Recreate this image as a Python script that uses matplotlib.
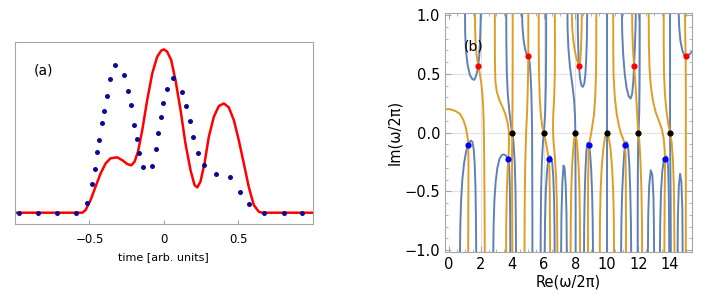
import matplotlib.pyplot as plt

# ---- panel (a): pulse shapes ----
red_t = [-1.0, -0.548, -0.526, -0.492, -0.459, -0.425, -0.391, -0.358, -0.313, -0.280,
         -0.246, -0.219, -0.197, -0.174, -0.145, -0.112, -0.078, -0.045, -0.018, 0.0,
         0.022, 0.049, 0.078, 0.112, 0.145, 0.179, 0.206, 0.224, 0.246, 0.273,
         0.302, 0.336, 0.369, 0.403, 0.436, 0.470, 0.503, 0.537, 0.570, 0.604,
         0.638, 0.660, 1.0]
red_e = [0.0, 0.0, 0.016, 0.078, 0.159, 0.241, 0.302, 0.333, 0.339, 0.322,
         0.298, 0.290, 0.312, 0.373, 0.506, 0.690, 0.853, 0.955, 0.992, 1.0,
         0.986, 0.935, 0.812, 0.629, 0.424, 0.261, 0.169, 0.155, 0.190, 0.302,
         0.465, 0.588, 0.653, 0.669, 0.645, 0.567, 0.445, 0.302, 0.159, 0.047,
         0.006, 0.0, 0.0]

dot_t = [-0.973, -0.846, -0.720, -0.591, -0.515, -0.481, -0.463, -0.447, -0.436, -0.416,
         -0.403, -0.385, -0.365, -0.327, -0.268, -0.244, -0.224, -0.201, -0.183, -0.166,
         -0.139, -0.081, -0.056, -0.040, -0.022, -0.004, 0.022, 0.063, 0.123, 0.148,
         0.174, 0.197, 0.228, 0.268, 0.353, 0.447, 0.510, 0.570, 0.676, 0.805, 0.928]
dot_e = [0.0, 0.0, 0.0, 0.0, 0.057, 0.173, 0.265, 0.373, 0.445, 0.551,
         0.622, 0.714, 0.816, 0.906, 0.841, 0.745, 0.657, 0.539, 0.451, 0.367,
         0.282, 0.286, 0.388, 0.486, 0.584, 0.669, 0.755, 0.827, 0.739, 0.653,
         0.563, 0.465, 0.367, 0.292, 0.237, 0.216, 0.129, 0.051, 0.0, 0.0, 0.0]

# ---- panel (b): zero lines traced by eye, (x, y) points ----
blue_lines = [
    [(1.01, 1.02), (1.02, 0.85), (1.07, 0.7), (1.17, 0.58), (1.32, 0.49), (1.48, 0.455), (1.6, 0.45),
     (1.7, 0.48), (1.78, 0.52), (1.85, 0.57), (1.91, 0.65), (1.96, 0.78), (1.99, 0.9), (2.01, 1.02)],
    [(3.62, 1.02), (3.63, 0.75), (3.66, 0.5), (3.72, 0.33), (3.82, 0.18), (3.92, 0.07), (4.0, 0.0),
     (4.08, -0.08), (4.16, -0.25), (4.21, -0.5), (4.23, -0.75), (4.24, -1.02)],
    [(4.62, 1.02), (4.65, 0.9), (4.72, 0.79), (4.82, 0.71), (4.92, 0.665), (5.02, 0.65), (5.1, 0.6),
     (5.16, 0.5), (5.21, 0.35), (5.24, 0.18), (5.26, 0.0), (5.27, -0.4), (5.28, -0.75), (5.28, -1.02)],
    [(6.15, 1.02), (6.15, 0.7), (6.13, 0.4), (6.09, 0.18), (6.04, 0.06), (6.0, 0.0), (5.95, -0.08),
     (5.88, -0.25), (5.83, -0.5), (5.81, -0.75), (5.8, -1.02)],
    [(7.5, 1.02), (7.51, 0.88), (7.56, 0.72), (7.66, 0.56), (7.8, 0.42), (7.92, 0.28), (7.98, 0.14),
     (8.0, 0.0), (8.01, -0.3), (8.02, -0.65), (8.02, -1.02)],
    [(8.15, 1.02), (8.16, 0.85), (8.19, 0.7), (8.23, 0.57), (8.3, 0.46), (8.39, 0.4), (8.48, 0.39),
     (8.57, 0.42), (8.64, 0.5), (8.69, 0.63), (8.73, 0.8), (8.75, 1.02)],
    [(10.0, 1.02), (10.0, 0.0), (10.0, -1.02)],
    [(10.95, 1.02), (10.97, 0.85), (11.03, 0.67), (11.13, 0.5), (11.25, 0.38), (11.38, 0.31), (11.5, 0.29),
     (11.6, 0.33), (11.67, 0.43), (11.72, 0.57), (11.77, 0.72), (11.81, 0.87), (11.83, 1.02)],
    [(12.08, 1.02), (12.08, 0.7), (12.07, 0.4), (12.05, 0.18), (12.02, 0.06), (12.0, 0.0), (11.98, -0.1),
     (11.96, -0.35), (11.95, -0.65), (11.95, -1.02)],
    [(14.0, 1.02), (14.0, 0.5), (14.0, 0.0), (14.02, -0.3), (14.04, -0.6), (14.05, -1.02)],
    [(14.55, 1.02), (14.58, 0.9), (14.66, 0.78), (14.78, 0.7), (14.9, 0.66), (14.99, 0.65), (15.1, 0.655),
     (15.25, 0.67), (15.4, 0.69)],
    # arches in the lower half
    [(0.69, -1.02), (0.71, -0.8), (0.76, -0.58), (0.84, -0.4), (0.95, -0.26), (1.08, -0.16), (1.22, -0.105),
     (1.32, -0.075), (1.4, -0.068), (1.48, -0.08), (1.56, -0.14), (1.62, -0.26), (1.67, -0.45), (1.7, -0.7),
     (1.72, -1.02)],
    [(2.8, -1.02), (2.82, -0.8), (2.87, -0.58), (2.95, -0.42), (3.06, -0.3), (3.2, -0.22), (3.35, -0.19),
     (3.47, -0.185), (3.6, -0.195), (3.68, -0.21), (3.75, -0.227), (3.81, -0.29), (3.85, -0.45), (3.87, -0.7),
     (3.88, -1.02)],
    [(6.06, -1.02), (6.08, -0.75), (6.13, -0.5), (6.2, -0.34), (6.26, -0.26), (6.31, -0.227), (6.38, -0.2),
     (6.45, -0.205), (6.53, -0.25), (6.6, -0.37), (6.65, -0.55), (6.68, -0.8), (6.69, -1.02)],
    [(7.1, -1.02), (7.12, -0.7), (7.18, -0.42), (7.25, -0.28), (7.32, -0.3), (7.39, -0.45), (7.44, -0.7),
     (7.46, -1.02)],
    [(8.55, -1.02), (8.56, -0.8), (8.59, -0.55), (8.64, -0.32), (8.7, -0.16), (8.76, -0.09), (8.82, -0.085),
     (8.87, -0.105), (8.93, -0.17), (9.0, -0.3), (9.06, -0.5), (9.1, -0.75), (9.12, -1.02)],
    [(10.9, -1.02), (10.92, -0.75), (10.97, -0.5), (11.04, -0.3), (11.1, -0.17), (11.15, -0.105),
     (11.22, -0.08), (11.28, -0.085), (11.35, -0.13), (11.42, -0.27), (11.48, -0.5), (11.52, -0.75),
     (11.54, -1.02)],
    [(12.6, -1.02), (12.62, -0.7), (12.68, -0.45), (12.78, -0.32), (12.88, -0.36), (12.95, -0.55),
     (12.98, -0.8), (12.99, -1.02)],
    [(13.36, -1.02), (13.38, -0.75), (13.43, -0.5), (13.51, -0.33), (13.6, -0.24), (13.68, -0.227),
     (13.76, -0.2), (13.83, -0.215), (13.88, -0.3), (13.92, -0.5), (13.94, -0.75), (13.95, -1.02)],
    [(14.48, -1.02), (14.5, -0.7), (14.56, -0.45), (14.64, -0.35), (14.72, -0.42), (14.78, -0.65),
     (14.8, -1.02)],
]
orange_lines = [
    [(-0.3, 0.2), (0.06, 0.2), (0.4, 0.185), (0.69, 0.16), (0.9, 0.11), (1.05, 0.05), (1.15, -0.02),
     (1.2, -0.07), (1.22, -0.105), (1.23, -0.3), (1.22, -0.6), (1.21, -1.02)],
    [(1.64, 1.02), (1.65, 0.88), (1.69, 0.74), (1.76, 0.64), (1.85, 0.57), (1.95, 0.5), (2.04, 0.42),
     (2.11, 0.33), (2.16, 0.22), (2.19, 0.1), (2.21, -0.05), (2.23, -0.3), (2.25, -0.65), (2.26, -1.02)],
    [(2.9, 1.02), (2.9, 0.75), (2.91, 0.55), (2.94, 0.43), (3.02, 0.35), (3.18, 0.28), (3.38, 0.22),
     (3.56, 0.16), (3.7, 0.09), (3.78, 0.02), (3.8, -0.06), (3.78, -0.16), (3.75, -0.227), (3.7, -0.35),
     (3.65, -0.55), (3.62, -0.8), (3.61, -1.02)],
    [(4.03, 1.02), (4.03, 0.6), (4.02, 0.25), (4.01, 0.08), (4.0, 0.0), (3.99, -0.15), (3.99, -0.4),
     (4.0, -0.7), (4.01, -1.02)],
    [(5.02, 1.02), (5.02, 0.8), (5.02, 0.65), (5.0, 0.45), (4.95, 0.2), (4.88, 0.0), (4.82, -0.3),
     (4.79, -0.65), (4.78, -1.02)],
    [(5.68, 1.02), (5.68, 0.75), (5.7, 0.5), (5.74, 0.3), (5.82, 0.14), (5.91, 0.05), (6.0, 0.0),
     (6.1, -0.06), (6.2, -0.13), (6.27, -0.19), (6.31, -0.227), (6.35, -0.3), (6.38, -0.5), (6.39, -0.75),
     (6.4, -1.02)],
    [(6.7, 1.02), (6.71, 0.75), (6.7, 0.5), (6.66, 0.3), (6.6, 0.15), (6.58, 0.03), (6.62, -0.08),
     (6.7, -0.2), (6.78, -0.38), (6.83, -0.6), (6.85, -0.8), (6.86, -1.02)],
    [(7.78, 1.02), (7.8, 0.9), (7.86, 0.8), (7.95, 0.71), (8.06, 0.64), (8.15, 0.6), (8.23, 0.57),
     (8.3, 0.6), (8.35, 0.68), (8.38, 0.8), (8.4, 0.9), (8.41, 1.02)],
    [(7.7, -1.02), (7.71, -0.75), (7.74, -0.5), (7.79, -0.3), (7.86, -0.15), (7.93, -0.05), (8.0, 0.0),
     (8.07, -0.05), (8.14, -0.15), (8.21, -0.3), (8.26, -0.5), (8.29, -0.75), (8.3, -1.02)],
    [(9.33, 1.02), (9.33, 0.75), (9.31, 0.5), (9.26, 0.3), (9.18, 0.15), (9.07, 0.05), (8.97, -0.03),
     (8.9, -0.08), (8.87, -0.105), (8.84, -0.2), (8.81, -0.4), (8.8, -0.7), (8.8, -1.02)],
    [(9.55, -1.02), (9.56, -0.75), (9.6, -0.5), (9.67, -0.3), (9.77, -0.14), (9.88, -0.04), (10.0, 0.0),
     (10.12, -0.04), (10.23, -0.14), (10.33, -0.3), (10.4, -0.5), (10.44, -0.75), (10.45, -1.02)],
    [(10.4, 1.02), (10.4, 0.75), (10.42, 0.5), (10.5, 0.3), (10.62, 0.16), (10.76, 0.06), (10.9, -0.01),
     (11.02, -0.05), (11.1, -0.08), (11.15, -0.105), (11.18, -0.2), (11.2, -0.45), (11.21, -0.75),
     (11.21, -1.02)],
    [(11.6, 1.02), (11.61, 0.88), (11.64, 0.75), (11.68, 0.65), (11.72, 0.57), (11.78, 0.47), (11.84, 0.35),
     (11.9, 0.2), (11.95, 0.08), (12.0, 0.0), (12.06, -0.08), (12.13, -0.25), (12.19, -0.5), (12.22, -0.75),
     (12.23, -1.02)],
    [(12.65, 1.02), (12.66, 0.75), (12.7, 0.55), (12.78, 0.4), (12.92, 0.27), (13.1, 0.17), (13.3, 0.1),
     (13.48, 0.03), (13.6, -0.05), (13.66, -0.15), (13.68, -0.227), (13.68, -0.35), (13.66, -0.55),
     (13.65, -0.8), (13.64, -1.02)],
    [(13.6, 1.02), (13.6, 0.75), (13.62, 0.5), (13.68, 0.32), (13.78, 0.18), (13.88, 0.08), (14.0, 0.0),
     (14.1, -0.08), (14.18, -0.22), (14.24, -0.45), (14.27, -0.75), (14.28, -1.02)],
    [(14.95, 1.02), (14.96, 0.85), (14.99, 0.65), (15.0, 0.4), (15.0, 0.0), (15.0, -0.5), (15.0, -1.02)],
]

red_zx = [1.85, 5.02, 8.23, 11.72, 14.99]
red_zy = [0.57, 0.65, 0.57, 0.57, 0.65]
blue_zx = [1.22, 3.75, 6.31, 8.87, 11.15, 13.68]
blue_zy = [-0.105, -0.227, -0.227, -0.105, -0.105, -0.227]
black_zx = [4, 6, 8, 10, 12, 14]
black_zy = [0, 0, 0, 0, 0, 0]

BLUE = '#5E81B5'
ORANGE = '#E19C24'
FRAME = '#a6a6a6'

fig = plt.figure(figsize=(7.08, 3.06), dpi=100)

# panel (a)
ax1 = fig.add_axes([0.0212, 0.267, 0.4205, 0.5967])
ax1.plot(red_t, red_e, color='#ff0000', lw=1.8, zorder=2)
ax1.plot(dot_t, dot_e, 'o', color='#0a0a96', ms=3.6, mec='none', zorder=3)
ax1.set_xlim(-1.0, 1.0)
ax1.set_ylim(-0.071, 1.047)
ax1.set_xticks([-0.5, 0, 0.5])
ax1.set_xticklabels(['\u22120.5', '0', '0.5'])
ax1.set_yticks([])
ax1.tick_params(axis='x', direction='in', length=3, color=FRAME, labelsize=8.5, pad=6)
ax1.set_xlabel('time [arb. units]', fontsize=8, labelpad=5)
for s in ax1.spines.values():
    s.set_color(FRAME)
    s.set_linewidth(0.8)
ax1.text(-0.807, 0.87, '(a)', fontsize=10, ha='center', va='center')

# panel (b)
ax2 = fig.add_axes([0.6285, 0.1775, 0.3484, 0.779])
for gx in [2, 4, 6, 8, 10, 12, 14]:
    ax2.axvline(gx, color='#e3e3e3', lw=0.8, zorder=0)
for gy in [-0.5, 0, 0.5]:
    ax2.axhline(gy, color='#e3e3e3', lw=0.8, zorder=0)
for line in blue_lines:
    ax2.plot([p[0] for p in line], [p[1] for p in line], color=BLUE, lw=1.4, zorder=2,
             solid_joinstyle='round')
for line in orange_lines:
    ax2.plot([p[0] for p in line], [p[1] for p in line], color=ORANGE, lw=1.4, zorder=2,
             solid_joinstyle='round')
ax2.plot(red_zx, red_zy, 'o', color='#ff0000', ms=4.5, mec='none', zorder=4)
ax2.plot(blue_zx, blue_zy, 'o', color='#0000ff', ms=4.5, mec='none', zorder=4)
ax2.plot(black_zx, black_zy, 'o', color='black', ms=4.5, mec='none', zorder=4)
ax2.set_xlim(-0.26, 15.37)
ax2.set_ylim(-1.013, 1.016)
ax2.set_xticks([0, 2, 4, 6, 8, 10, 12, 14])
ax2.set_yticks([-1.0, -0.5, 0.0, 0.5, 1.0])
ax2.set_yticklabels(['\u22121.0', '\u22120.5', '0.0', '0.5', '1.0'])
ax2.set_xticks([x * 0.5 for x in range(0, 31)], minor=True)
ax2.set_yticks([y * 0.1 for y in range(-10, 11)], minor=True)
ax2.tick_params(which='both', direction='in', color=FRAME, top=True, right=True,
                labelsize=10.5)
ax2.tick_params(which='major', length=4)
ax2.tick_params(which='minor', length=2)
ax2.set_xlabel('Re(\u03c9/2\u03c0)', fontsize=10.5, labelpad=2)
ax2.set_ylabel('Im(\u03c9/2\u03c0)', fontsize=10.5, labelpad=2)
for s in ax2.spines.values():
    s.set_color(FRAME)
    s.set_linewidth(0.8)
ax2.text(1.57, 0.73, '(b)', fontsize=10, ha='center', va='center', zorder=5)

fig.savefig('out.png', dpi=100)
